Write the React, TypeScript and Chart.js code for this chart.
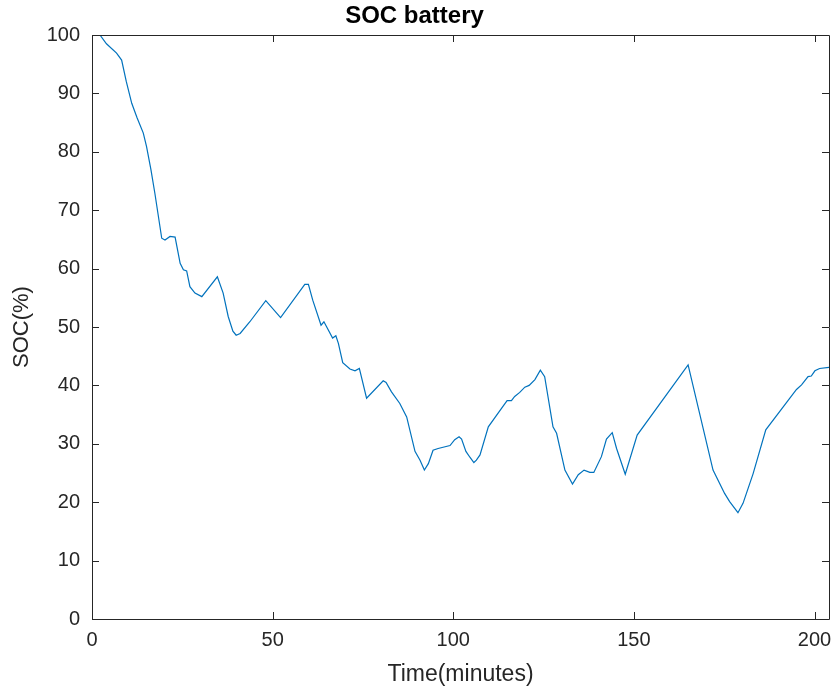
import React, { useEffect, useRef } from "react";
import { Chart, registerables } from "chart.js";

Chart.register(...registerables);

const times = [0, 2.2, 4, 6.8, 8.2, 9.5, 11, 12.5, 14.2, 15.1, 16.3, 17.4, 19.3, 20.2, 21.6, 23, 24.4, 25.3, 26.2, 27.1, 28.5, 30.4, 34.7, 36.3, 37.7, 39, 39.9, 41, 43.7, 48.1, 52.2, 58.9, 59.9, 61.1, 63.4, 64.2, 66.6, 67.5, 68.2, 69.4, 71.4, 72.8, 74, 76, 80.6, 81.4, 82.9, 85.2, 87.1, 89.4, 90.8, 92, 93.1, 94.4, 95.8, 99.1, 100.4, 101.6, 102.3, 103.5, 104.6, 105.7, 106.4, 107.4, 109.7, 113.4, 114.9, 116.1, 117, 118.4, 119.8, 121, 122.6, 124.1, 125.3, 127.6, 128.6, 130.9, 133, 134.6, 136.2, 137.8, 138.9, 141, 142.4, 144, 145.2, 147.6, 150.9, 165, 171.9, 175.1, 176.5, 178.8, 180.2, 183, 186.5, 195, 196.4, 198.2, 199.1, 200.1, 201.4, 204];
const soc = [100, 100, 98.5, 96.9, 95.7, 92, 88.3, 85.8, 83.2, 80.9, 77, 72.9, 65.2, 64.9, 65.5, 65.4, 60.9, 59.8, 59.6, 56.9, 55.8, 55.2, 58.6, 55.8, 51.8, 49.3, 48.6, 48.9, 50.9, 54.5, 51.6, 57.3, 57.3, 54.6, 50.3, 50.9, 48.1, 48.5, 47.2, 43.9, 42.8, 42.5, 42.9, 37.8, 40.8, 40.5, 38.9, 36.9, 34.6, 28.7, 27.2, 25.5, 26.6, 28.9, 29.2, 29.7, 30.7, 31.2, 30.8, 28.7, 27.7, 26.8, 27.2, 28.1, 32.9, 36.1, 37.4, 37.4, 38.1, 38.8, 39.7, 40.0, 41.0, 42.6, 41.5, 32.9, 31.8, 25.5, 23.1, 24.7, 25.5, 25.1, 25.1, 27.8, 30.8, 31.9, 29.2, 24.8, 31.5, 43.5, 25.5, 21.5, 20.1, 18.2, 19.8, 24.9, 32.4, 39.3, 40.1, 41.5, 41.6, 42.5, 42.9, 43.1];

const xTicks = [0, 50, 100, 150, 200];
const yTicks = [0, 10, 20, 30, 40, 50, 60, 70, 80, 90, 100];
const xMax = 204;

const AXIS = "#262626";
const FONT = "'Liberation Sans', Arial, Helvetica, sans-serif";

const boxPlugin = {
  id: "matlabBox",
  afterDatasetsDraw(chart: any) {
    const { ctx, chartArea: a, scales } = chart;
    const tl = 7;
    ctx.save();
    ctx.strokeStyle = AXIS;
    ctx.lineWidth = 1;
    ctx.beginPath();
    ctx.rect(Math.round(a.left) + 0.5, Math.round(a.top) + 0.5, Math.round(a.right - a.left), Math.round(a.bottom - a.top));
    xTicks.forEach((v) => {
      const px = Math.round(scales.x.getPixelForValue(v)) + 0.5;
      ctx.moveTo(px, a.bottom);
      ctx.lineTo(px, a.bottom - tl);
      ctx.moveTo(px, a.top);
      ctx.lineTo(px, a.top + tl);
    });
    yTicks.forEach((v) => {
      const py = Math.round(scales.y.getPixelForValue(v)) + 0.5;
      ctx.moveTo(a.left, py);
      ctx.lineTo(a.left + tl, py);
      ctx.moveTo(a.right, py);
      ctx.lineTo(a.right - tl, py);
    });
    ctx.stroke();
    ctx.restore();
  },
};

export default function App() {
  const ref = useRef<HTMLCanvasElement>(null);
  useEffect(() => {
    if (!ref.current) return;
    const chart = new Chart(ref.current, {
      type: "line",
      data: {
        datasets: [
          {
            data: times.map((t, i) => ({ x: t, y: soc[i] })),
            borderColor: "#0072BD",
            borderWidth: 1.2,
            pointRadius: 0,
            tension: 0,
            fill: false,
          },
        ],
      },
      options: {
        responsive: false,
        animation: false,
        layout: { padding: { left: 0, right: 3, top: 0, bottom: 0 } },
        plugins: {
          legend: { display: false },
          tooltip: { enabled: false },
          title: {
            display: true,
            text: "SOC battery",
            color: "#000",
            font: { family: FONT, size: 24, weight: "bold" },
            padding: { top: 1.6, bottom: 4.6 },
          },
        },
        scales: {
          x: {
            type: "linear",
            min: 0,
            max: xMax,
            grid: { display: false, drawTicks: false },
            border: { display: false },
            afterBuildTicks: (s: any) => {
              s.ticks = xTicks.map((v) => ({ value: v }));
            },
            afterFit: (s: any) => {
              s.height = 74;
              s.paddingLeft = 0;
              s.paddingRight = 0;
            },
            ticks: {
              color: AXIS,
              font: { family: FONT, size: 20 },
              padding: 9,
              maxRotation: 0,
            },
            title: {
              display: true,
              text: "Time(minutes)",
              color: AXIS,
              font: { family: FONT, size: 23 },
              padding: { top: 0, bottom: 5 },
            },
          },
          y: {
            type: "linear",
            min: 0,
            max: 100,
            grid: { display: false, drawTicks: false },
            border: { display: false },
            afterBuildTicks: (s: any) => {
              s.ticks = yTicks.map((v) => ({ value: v }));
            },
            afterFit: (s: any) => {
              s.width = 92;
              s.paddingTop = 0;
              s.paddingBottom = 0;
            },
            ticks: {
              color: AXIS,
              font: { family: FONT, size: 20 },
              padding: 12,
            },
            title: {
              display: true,
              text: "SOC(%)",
              color: AXIS,
              font: { family: FONT, size: 22 },
              padding: { top: 9, bottom: 0 },
            },
          },
        },
      },
      plugins: [boxPlugin],
    } as any);
    return () => chart.destroy();
  }, []);
  return (
    <div style={{ position: "fixed", left: 0, top: 0, width: 832, height: 693, background: "#fff" }}>
      <canvas ref={ref} width={832} height={693} style={{ width: 832, height: 693 }} />
    </div>
  );
}
